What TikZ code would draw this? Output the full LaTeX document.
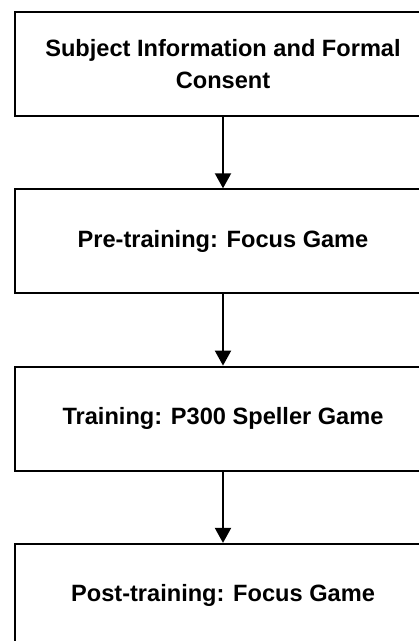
\documentclass[tikz,border=0pt]{standalone}
\usepackage{fontspec}
\setmainfont{Liberation Sans}
\usepackage{tikz}
\usetikzlibrary{arrows.meta,positioning}

\tikzset{
  stagebox/.style={draw, line width=2pt, minimum width=415.4pt, minimum height=104pt,
    inner sep=0pt, align=center, font=\bfseries\fontsize{23.6}{32}\selectfont},
  flow/.style={line width=2pt, -{Triangle[width=16pt,length=15pt]}}
}

\begin{document}
\begin{tikzpicture}[x=1pt,y=-1pt]
  \useasboundingbox (0,0) rectangle (419,641);
  \clip (0,0) rectangle (419,641);

  \node[stagebox] (consent) at (223,64) {Subject Information and Formal\\Consent};
  \node[stagebox,below=71.3pt of consent] (pre) {Pre-training: Focus Game};
  \node[stagebox,below=71.3pt of pre] (train) {Training: P300 Speller Game};
  \node[stagebox,below=71.3pt of train] (post) {Post-training: Focus Game};

  \foreach \a/\b in {consent/pre, pre/train, train/post}
    \draw[flow] (\a) -- (\b);
\end{tikzpicture}
\end{document}
